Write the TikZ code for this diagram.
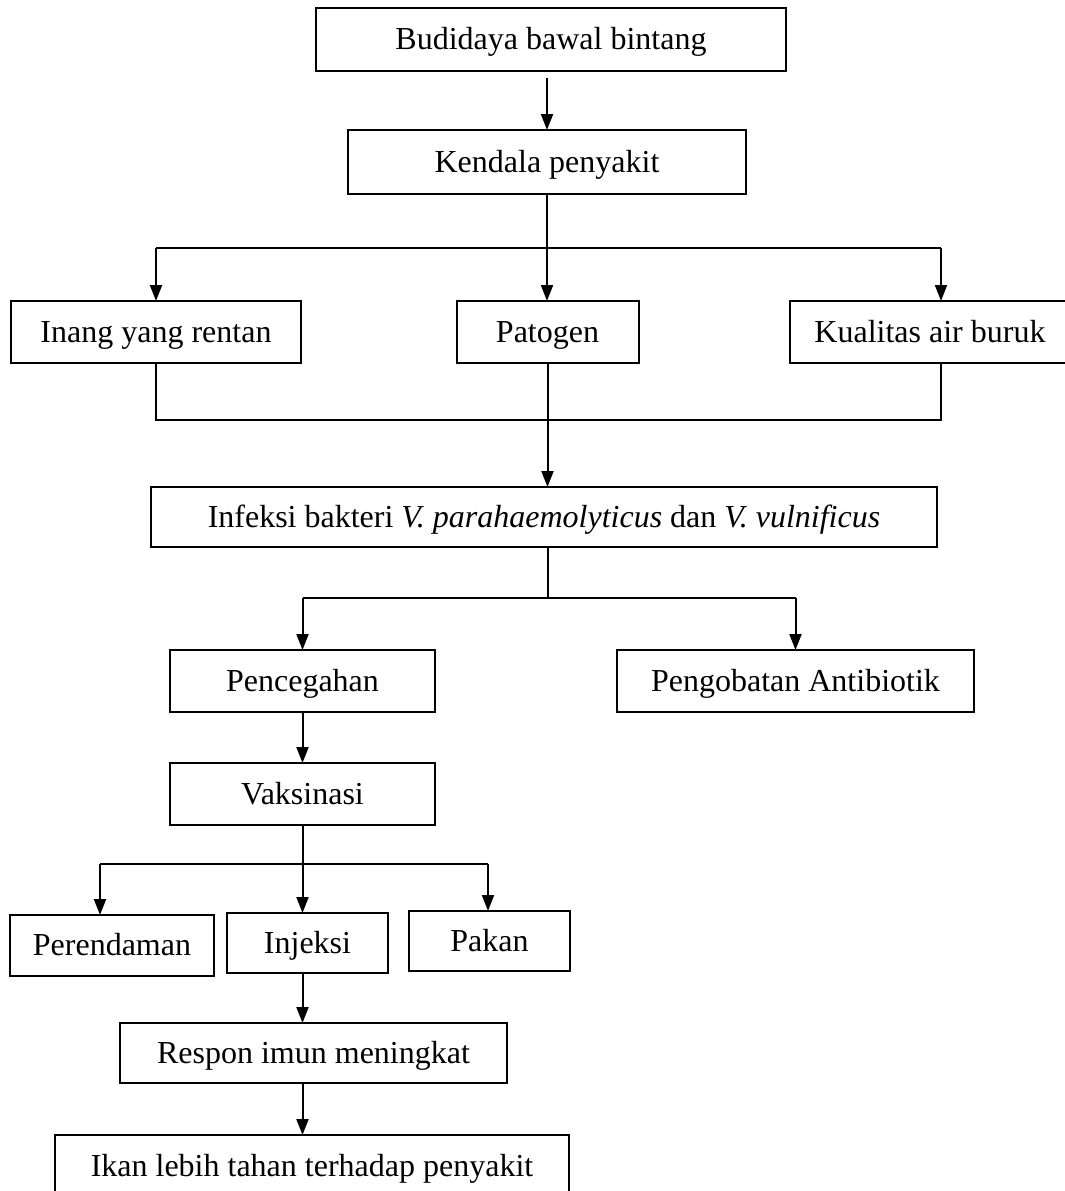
\documentclass[tikz,border=0pt]{standalone}
\usepackage{fontspec}
\setmainfont{Liberation Serif}
\usetikzlibrary{arrows.meta}
\begin{document}
\begin{tikzpicture}[x=1pt,y=-1pt,
  box/.style={draw, line width=2pt, inner sep=0pt, outer sep=0pt,
    text height=20pt, text depth=0pt,
    font=\fontsize{32}{38}\selectfont},
  ln/.style={line width=2pt},
  arr/.style={line width=2pt, -{Triangle[length=16pt,width=12pt]}}]
\useasboundingbox (0,0) rectangle (1065,1191);

\node[box, minimum width=470pt, minimum height=63pt] (b1) at (551,39.5) {Budidaya bawal bintang};
\node[box, minimum width=398pt, minimum height=64pt] (b2) at (547,162) {Kendala penyakit};
\node[box, minimum width=290pt, minimum height=62pt] (inang) at (156,332) {Inang yang rentan};
\node[box, minimum width=182pt, minimum height=62pt] (patogen) at (547.5,332) {Patogen};
\node[box, minimum width=280pt, minimum height=62pt] (kualitas) at (930,332) {Kualitas air buruk};
\node[box, minimum width=786pt, minimum height=60pt] (infeksi) at (544,517) {Infeksi bakteri \textit{V. parahaemolyticus} dan \textit{V. vulnificus}};
\node[box, minimum width=265pt, minimum height=62pt] (pencegahan) at (302.5,681) {Pencegahan};
\node[box, minimum width=357pt, minimum height=62pt] (pengobatan) at (795.5,681) {Pengobatan Antibiotik};
\node[box, minimum width=265pt, minimum height=62pt] (vaksinasi) at (302.5,794) {Vaksinasi};
\node[box, minimum width=204pt, minimum height=61pt] (perendaman) at (112,945.5) {Perendaman};
\node[box, minimum width=161pt, minimum height=60pt] (injeksi) at (307.5,943) {Injeksi};
\node[box, minimum width=161pt, minimum height=60pt] (pakan) at (489.5,941) {Pakan};
\node[box, minimum width=387pt, minimum height=60pt] (respon) at (313.5,1053) {Respon imun meningkat};
\node[box, minimum width=514pt, minimum height=62pt] (ikan) at (312,1166) {Ikan lebih tahan terhadap penyakit};

% top
\coordinate (s1) at (547,78);
\draw[arr] (s1) -- (s1 |- b2.north);

% split into three
\coordinate (hl) at (156,248);
\coordinate (hr) at (941,248);
\draw[arr] (b2.south) -- (b2.south |- patogen.north);
\draw[ln] (hl) -- (hr);
\draw[arr] (hl) -- (hl |- inang.north);
\draw[arr] (hr) -- (hr |- kualitas.north);

% merge
\coordinate (ml) at (156,420);
\coordinate (mr) at (941,420);
\draw[ln] (inang.south) -- (ml) -- (mr) -- (mr |- kualitas.south);
\draw[arr] (patogen.south) -- (patogen.south |- infeksi.north);

% infeksi split
\coordinate (i0) at (547.5,598);
\coordinate (il) at (302.5,598);
\coordinate (ir) at (795.5,598);
\draw[ln] (i0 |- infeksi.south) -- (i0);
\draw[ln] (il) -- (ir);
\draw[arr] (il) -- (pencegahan.north);
\draw[arr] (ir) -- (pengobatan.north);

\draw[arr] (pencegahan.south) -- (vaksinasi.north);

% vaksinasi split
\coordinate (vl) at (100,864);
\coordinate (vr) at (488,864);
\draw[arr] (vaksinasi.south) -- (vaksinasi.south |- injeksi.north);
\draw[ln] (vl) -- (vr);
\draw[arr] (vl) -- (vl |- perendaman.north);
\draw[arr] (vr) -- (vr |- pakan.north);

\coordinate (c302) at (302.5,0);
\draw[arr] (c302 |- injeksi.south) -- (c302 |- respon.north);
\draw[arr] (c302 |- respon.south) -- (c302 |- ikan.north);
\end{tikzpicture}
\end{document}
